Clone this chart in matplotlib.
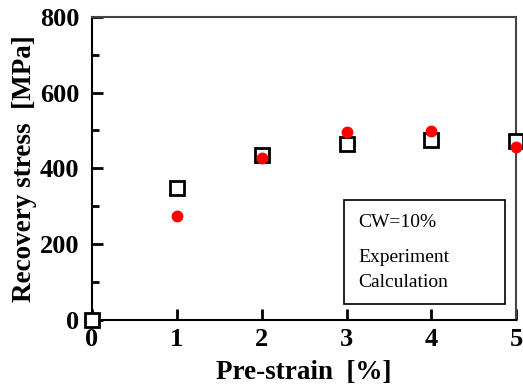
import matplotlib.pyplot as plt
from matplotlib.ticker import MultipleLocator

# Recovery stress vs. pre-strain, CW=10%
exp_strain = [0, 1, 2, 3, 4, 5]
exp_stress = [0, 348, 434, 463, 476, 473]

calc_strain = [1, 2, 3, 4, 5]
calc_stress = [274, 428, 496, 499, 455]

x_ticks = [0, 1, 2, 3, 4, 5]
y_ticks = [0, 200, 400, 600, 800]

plt.rcParams['font.family'] = ['Liberation Serif', 'DejaVu Serif']

fig = plt.figure(figsize=(5.23, 3.91), dpi=100)
ax = fig.add_axes([0.176, 0.182, 0.811, 0.775])

ax.plot(exp_strain, exp_stress, 's', ms=10.5, mfc='white', mec='black',
        mew=2.0, clip_on=False, zorder=3)
ax.plot(calc_strain, calc_stress, 'o', ms=7.5, color='red', mec='red',
        clip_on=False, zorder=4)

ax.set_xlim(0, 5)
ax.set_ylim(0, 800)
ax.set_xticks(x_ticks)
ax.set_yticks(y_ticks)
ax.yaxis.set_minor_locator(MultipleLocator(100))

ax.tick_params(axis='both', which='major', direction='in', length=8, width=2,
               labelsize=19, top=False, right=False)
ax.tick_params(axis='y', which='major', pad=9)
ax.tick_params(axis='x', which='major', pad=6)
ax.tick_params(axis='y', which='minor', direction='in', length=5, width=2,
               right=False)
for lbl in ax.get_xticklabels() + ax.get_yticklabels():
    lbl.set_fontweight('bold')

ax.spines['left'].set_linewidth(1.5)
ax.spines['bottom'].set_linewidth(1.5)
ax.spines['top'].set_linewidth(1.5)
ax.spines['right'].set_linewidth(1.5)
ax.spines['top'].set_color('#444444')
ax.spines['right'].set_color('#444444')

ax.set_xlabel('Pre-strain  [%]', fontsize=19.5, fontweight='bold', labelpad=6)
ax.set_ylabel('Recovery stress  [MPa]', fontsize=19.5, fontweight='bold', labelpad=2)

# text box in the lower right
box = plt.Rectangle((0.595, 0.053), 0.378, 0.343, transform=ax.transAxes,
                    fill=False, edgecolor='black', lw=1.2, zorder=2)
ax.add_patch(box)
ax.text(0.628, 0.305, 'CW=10%', transform=ax.transAxes, fontsize=14, va='baseline')
ax.text(0.628, 0.19, 'Experiment', transform=ax.transAxes, fontsize=14, va='baseline')
ax.text(0.628, 0.11, 'Calculation', transform=ax.transAxes, fontsize=14, va='baseline')

fig.savefig('out.png', dpi=100)
